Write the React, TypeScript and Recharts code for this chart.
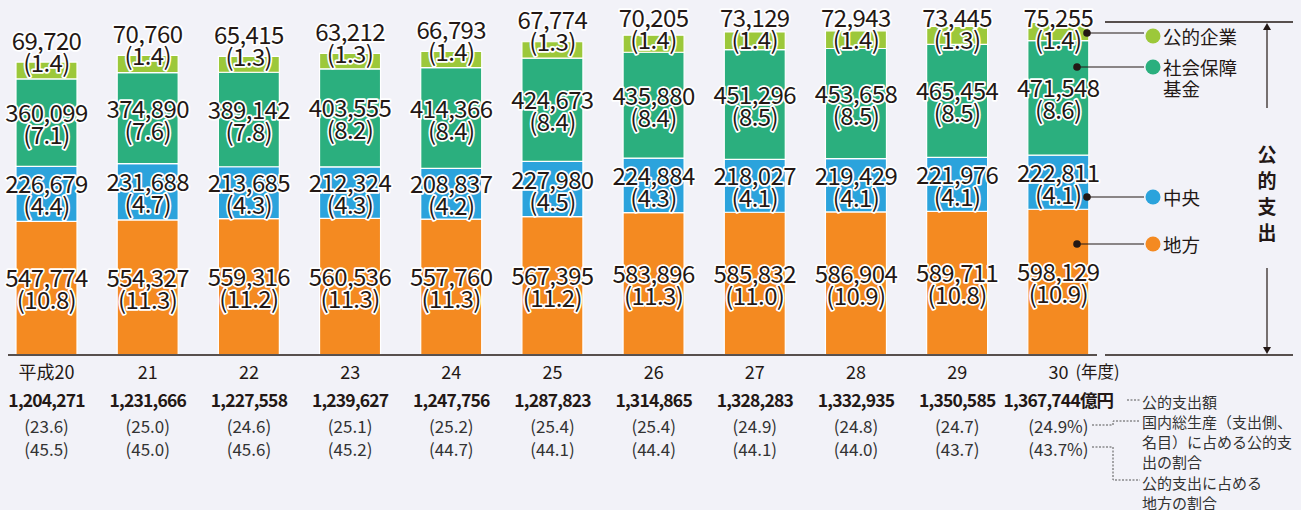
import React from 'react';
import { BarChart, Bar, XAxis, YAxis, LabelList } from 'recharts';

const years = ['平成20', '21', '22', '23', '24', '25', '26', '27', '28', '29', '30'];
const chiho = [547774, 554327, 559316, 560536, 557760, 567395, 583896, 585832, 586904, 589711, 598129];
const chihoPct = ['10.8', '11.3', '11.2', '11.3', '11.3', '11.2', '11.3', '11.0', '10.9', '10.8', '10.9'];
const chuo = [226679, 231688, 213685, 212324, 208837, 227980, 224884, 218027, 219429, 221976, 222811];
const chuoPct = ['4.4', '4.7', '4.3', '4.3', '4.2', '4.5', '4.3', '4.1', '4.1', '4.1', '4.1'];
const shakai = [360099, 374890, 389142, 403555, 414366, 424673, 435880, 451296, 453658, 465454, 471548];
const shakaiPct = ['7.1', '7.6', '7.8', '8.2', '8.4', '8.4', '8.4', '8.5', '8.5', '8.5', '8.6'];
const kigyo = [69720, 70760, 65415, 63212, 66793, 67774, 70205, 73129, 72943, 73445, 75255];
const kigyoPct = ['1.4', '1.4', '1.3', '1.3', '1.4', '1.3', '1.4', '1.4', '1.4', '1.3', '1.4'];
const totals = [1204271, 1231666, 1227558, 1239627, 1247756, 1287823, 1314865, 1328283, 1332935, 1350585, 1367744];
const gdpShare = ['23.6', '25.0', '24.6', '25.1', '25.2', '25.4', '25.4', '24.9', '24.8', '24.7', '24.9'];
const localShare = ['45.5', '45.0', '45.6', '45.2', '44.7', '44.1', '44.4', '44.1', '44.0', '43.7', '43.7'];

const data = years.map((year, i) => ({
  year,
  chiho: chiho[i],
  chuo: chuo[i],
  shakai: shakai[i],
  kigyo: kigyo[i],
}));

const FONT = "'Noto Sans CJK JP', 'Noto Sans', sans-serif";
const INK = '#231815';
const BG = '#f2f2f8';
const C_CHIHO = '#f48a21';
const C_CHUO = '#2ba3dc';
const C_SHAKAI = '#2baf7e';
const C_KIGYO = '#9cc83a';

const fmt = (v: number) => v.toLocaleString('en-US');

const haloText = (x: number, y: number, s: string, key: string) => (
  <text
    key={key}
    x={x}
    y={y}
    textAnchor="middle"
    dominantBaseline="central"
    fontFamily={FONT}
    fontSize={24}
    fill={INK}
    stroke="#ffffff"
    strokeWidth={3.5}
    strokeLinejoin="round"
    paintOrder="stroke"
    letterSpacing={-0.6}
  >
    {s}
  </text>
);

const makeLabel = (vals: number[], pcts: string[], top: boolean) => (props: any) => {
  const { x, y, width, height, index } = props;
  const cx = Number(x) + Number(width) / 2;
  let y1: number;
  let y2: number;
  if (top) {
    y1 = Math.max(Number(y) - 23, 16);
    y2 = y1 + 22;
  } else {
    const c = Number(y) + Number(height) / 2;
    y1 = c - 11;
    y2 = c + 11;
  }
  return (
    <g>
      {haloText(cx, y1, fmt(vals[index]), 'a')}
      {haloText(cx, y2, `(${pcts[index]})`, 'b')}
    </g>
  );
};

const Tick = (props: any) => {
  const { x, y, payload } = props;
  const i = payload.index;
  const last = i === years.length - 1;
  return (
    <g fontFamily={FONT} fill={INK}>
      {last ? (
        <>
          <text x={x} y={y + 16} textAnchor="middle" dominantBaseline="central" fontSize={18} fill={INK}>
            {payload.value}
          </text>
          <text x={x + 17} y={y + 16} textAnchor="start" dominantBaseline="central" fontSize={16.5} fill={INK}>
            (年度)
          </text>
        </>
      ) : (
        <text x={x} y={y + 16} textAnchor="middle" dominantBaseline="central" fontSize={18} fill={INK}>
          {payload.value}
        </text>
      )}
      <text x={x} y={y + 45} textAnchor="middle" dominantBaseline="central" fontSize={17.5} fontWeight="bold" fill={INK} letterSpacing={-0.8}>
        {fmt(totals[i]) + (last ? '億円' : '')}
      </text>
      <text x={x} y={y + 71} textAnchor="middle" dominantBaseline="central" fontSize={17} fill="#333">
        {`(${gdpShare[i]}${last ? '%' : ''})`}
      </text>
      <text x={x} y={y + 94} textAnchor="middle" dominantBaseline="central" fontSize={17} fill="#333">
        {`(${localShare[i]}${last ? '%' : ''})`}
      </text>
    </g>
  );
};

const Overlay = () => {
  const legendItems = [
    { label: ['公的企業'], color: C_KIGYO, dot: [1087, 33], ty: 36 },
    { label: ['社会保障', '基金'], color: C_SHAKAI, dot: [1077, 67], ty: 67 },
    { label: ['中央'], color: C_CHUO, dot: [1087, 197], ty: 197 },
    { label: ['地方'], color: C_CHIHO, dot: [1077, 244], ty: 244 },
  ];
  const noteLines = [
    { t: '公的支出額', y: 401 },
    { t: '国内総生産（支出側、', y: 421 },
    { t: '名目）に占める公的支', y: 441 },
    { t: '出の割合', y: 461 },
    { t: '公的支出に占める', y: 482 },
    { t: '地方の割合', y: 502 },
  ];
  return (
    <svg width={1301} height={510} style={{ position: 'absolute', left: 0, top: 0, pointerEvents: 'none' }}>
      <line x1={8} x2={1097} y1={355} y2={355} stroke={INK} strokeWidth={1.5} />
      <line x1={1105} x2={1293} y1={22} y2={22} stroke={INK} strokeWidth={1.3} />
      <line x1={1105} x2={1293} y1={355} y2={355} stroke={INK} strokeWidth={1.3} />
      <line x1={1267} x2={1267} y1={27} y2={108} stroke={INK} strokeWidth={1.2} />
      <polygon points="1267,23 1263,30 1271,30" fill={INK} />
      <line x1={1267} x2={1267} y1={268} y2={348} stroke={INK} strokeWidth={1.2} />
      <polygon points="1267,354 1263,347 1271,347" fill={INK} />
      {['公', '的', '支', '出'].map((c, k) => (
        <text key={c} x={1267} y={153 + k * 26} textAnchor="middle" dominantBaseline="central" fontFamily={FONT} fontSize={19} fontWeight="bold" fill={INK}>
          {c}
        </text>
      ))}
      {legendItems.map((it) => (
        <g key={it.label[0]}>
          <line x1={it.dot[0]} x2={1144} y1={it.dot[1]} y2={it.dot[1]} stroke={INK} strokeWidth={1.2} />
          <circle cx={it.dot[0]} cy={it.dot[1]} r={3.8} fill={INK} />
          <circle cx={1153} cy={it.ty} r={7.5} fill={it.color} />
          {it.label.map((l, k) => (
            <text key={l} x={1163} y={it.ty + k * 21} dominantBaseline="central" fontFamily={FONT} fontSize={18.5} fill={INK}>
              {l}
            </text>
          ))}
        </g>
      ))}
      {noteLines.map((n) => (
        <text key={n.t} x={1142} y={n.y} dominantBaseline="central" fontFamily={FONT} fontSize={15} fill="#333">
          {n.t}
        </text>
      ))}
      <g stroke="#555" strokeWidth={1} strokeDasharray="2 1.5" fill="none">
        <line x1={1127} x2={1140} y1={400} y2={400} />
        <polyline points="1092,425 1113,425 1113,421 1140,421" />
        <polyline points="1092,447 1113,447 1113,480 1140,480" />
      </g>
    </svg>
  );
};

export default function App() {
  return (
    <div style={{ position: 'absolute', left: 0, top: 0, width: 1301, height: 510, background: BG, overflow: 'hidden' }}>
      <BarChart
        width={1301}
        height={510}
        data={data}
        margin={{ top: 14.5, right: 192, bottom: 125.5, left: -4 }}
        barSize={61}
      >
        <YAxis hide width={0} domain={[0, 1400000]} type="number" />
        <XAxis
          dataKey="year"
          height={30}
          axisLine={false}
          tickLine={false}
          tickSize={0}
          tickMargin={0}
          interval={0}
          tick={<Tick />}
        />
        <Bar dataKey="chiho" stackId="a" fill={C_CHIHO} stroke="#ffffff" strokeWidth={1.2} isAnimationActive={false}>
          <LabelList dataKey="chiho" content={makeLabel(chiho, chihoPct, false)} />
        </Bar>
        <Bar dataKey="chuo" stackId="a" fill={C_CHUO} stroke="#ffffff" strokeWidth={1.2} isAnimationActive={false}>
          <LabelList dataKey="chuo" content={makeLabel(chuo, chuoPct, false)} />
        </Bar>
        <Bar dataKey="shakai" stackId="a" fill={C_SHAKAI} stroke="#ffffff" strokeWidth={1.2} isAnimationActive={false}>
          <LabelList dataKey="shakai" content={makeLabel(shakai, shakaiPct, false)} />
        </Bar>
        <Bar dataKey="kigyo" stackId="a" fill={C_KIGYO} stroke="#ffffff" strokeWidth={1.2} isAnimationActive={false}>
          <LabelList dataKey="kigyo" content={makeLabel(kigyo, kigyoPct, true)} />
        </Bar>
      </BarChart>
      <Overlay />
    </div>
  );
}
